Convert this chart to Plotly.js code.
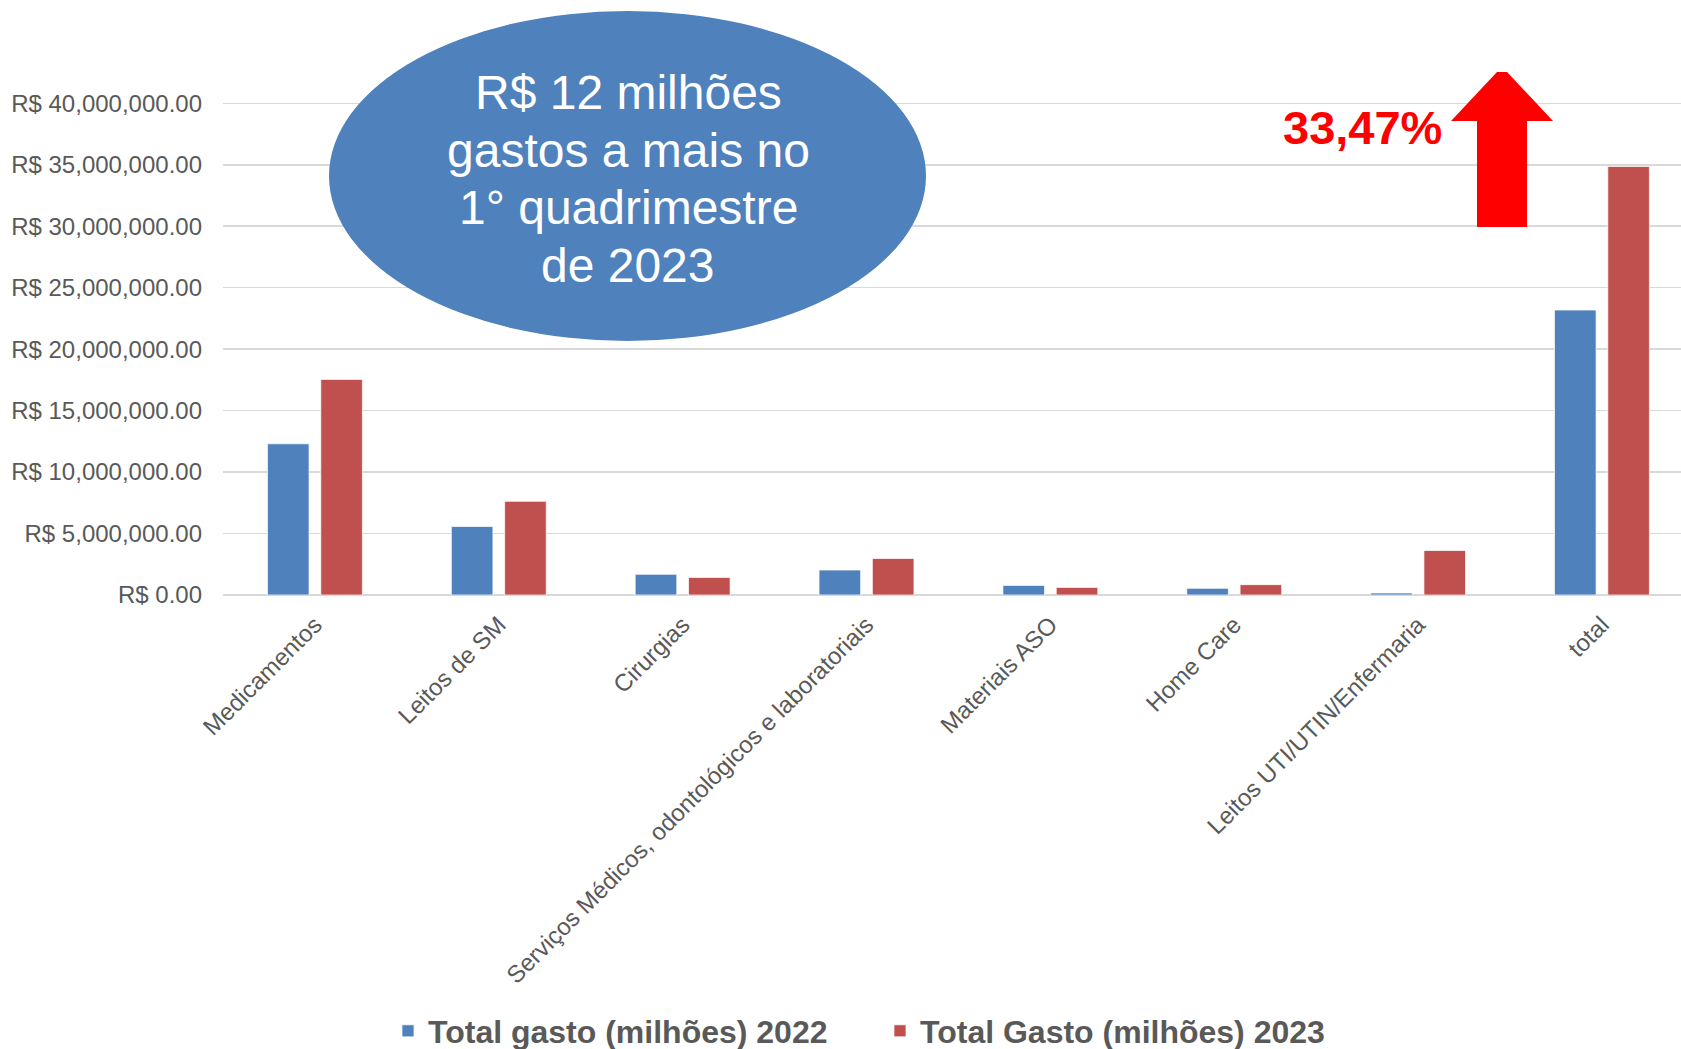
<!DOCTYPE html>
<html>
<head>
<meta charset="utf-8">
<script src="https://cdn.plot.ly/plotly-3.0.1.min.js"></script>
<style>
  html, body { margin: 0; padding: 0; background: #fff; }
  #plot { width: 1681px; height: 1049px; }
</style>
</head>
<body>
<div id="plot"></div>
<script>
// categories and values (R$)
let categories = [
    "Medicamentos",
    "Leitos de SM",
    "Cirurgias",
    "Serviços Médicos, odontológicos e laboratoriais",
    "Materiais ASO",
    "Home Care",
    "Leitos UTI/UTIN/Enfermaria",
    "total"
]
let gasto2022 = [12300000, 5570000, 1680000, 2030000, 780000, 540000, 160000, 23180000]
let gasto2023 = [17540000, 7620000, 1430000, 2970000, 620000, 840000, 3620000, 34860000]

let seriesNames = ["Total gasto (milhões) 2022", "Total Gasto (milhões) 2023"]
let calloutLines = ["R$ 12 milhões", "gastos a mais no", "1° quadrimestre", "de 2023"]
let growthText = "33,47%"

// plot box in page pixels, used to place the drawings over the chart
const L = 223, T = 91, B = 454
const W = 1681 - L
const H = 1049 - T - B
const bottomY = T + H
function px(x) { return (x - L) / W }
function py(y) { return (bottomY - y) / H }

let trace2022 = {
    x: categories,
    y: gasto2022,
    name: seriesNames[0],
    type: "bar",
    marker: { color: "#4F81BD", line: { color: "rgba(255,255,255,0.7)", width: 1 } },
    hoverinfo: "skip"
}

let trace2023 = {
    x: categories,
    y: gasto2023,
    name: seriesNames[1],
    type: "bar",
    marker: { color: "#C0504D", line: { color: "rgba(255,255,255,0.7)", width: 1 } },
    hoverinfo: "skip"
}

// block arrow drawn in pixel units then turned into paper units
let arrowPts = [[1497, 72], [1507, 72], [1553, 121], [1527, 121], [1527, 227],
                [1477, 227], [1477, 121], [1451, 121]]
let arrowPath = arrowPts.map((p, i) => (i === 0 ? "M" : "L") + px(p[0]) + "," + py(p[1])).join(" ") + " Z"

// one annotation per line of the callout so the line spacing matches
let calloutNotes = calloutLines.map((line, i) => ({
    xref: "paper", yref: "paper",
    x: px(628), y: py(178.8 + (i - 1.5) * 57.6),
    xanchor: "center", yanchor: "middle",
    text: line,
    showarrow: false,
    font: { size: 48, color: "#ffffff", family: "Liberation Sans, Arial, sans-serif" }
}))

let layout = {
    width: 1681,
    height: 1049,
    paper_bgcolor: "#ffffff",
    plot_bgcolor: "#ffffff",
    font: { family: "Liberation Sans, Arial, sans-serif", color: "#595959" },
    barmode: "group",
    bargap: 0.42,
    bargroupgap: 0.22,
    margin: { l: L, r: 0, t: T, b: B, pad: 0, autoexpand: false },
    xaxis: {
        range: [-0.5, 7.43],
        tickangle: -45,
        tickfont: { size: 24, color: "#595959" },
        showgrid: false,
        showline: false,
        zeroline: false,
        ticks: "",
        ticklabelstandoff: 10,
        automargin: false
    },
    yaxis: {
        range: [0, 41000000],
        dtick: 5000000,
        tickprefix: "R$ ",
        tickformat: ",.2f",
        tickfont: { size: 24, color: "#595959" },
        gridcolor: "#D9D9D9",
        gridwidth: 1.5,
        zeroline: true,
        zerolinecolor: "#D9D9D9",
        zerolinewidth: 1.5,
        showline: false,
        ticks: "",
        ticklabelstandoff: 20,
        automargin: false
    },
    showlegend: true,
    legend: {
        orientation: "h",
        x: px(388),
        xanchor: "left",
        y: py(1031),
        yanchor: "middle",
        font: { size: 32, color: "#595959", weight: "bold" },
        entrywidth: 447,
        traceorder: "normal"
    },
    shapes: [
        {
            type: "circle",
            xref: "paper", yref: "paper",
            x0: px(329), x1: px(926),
            y0: py(341), y1: py(11),
            fillcolor: "#4F81BD",
            line: { width: 0 },
            layer: "above"
        },
        {
            type: "path",
            xref: "paper", yref: "paper",
            path: arrowPath,
            fillcolor: "#FF0000",
            line: { width: 0 },
            layer: "above"
        }
    ],
    annotations: calloutNotes.concat([
        {
            xref: "paper", yref: "paper",
            x: px(1362), y: py(128),
            xanchor: "center", yanchor: "middle",
            text: "<b>" + growthText + "</b>",
            showarrow: false,
            font: { size: 47, color: "#FF0000", family: "Liberation Sans, Arial, sans-serif" }
        }
    ])
}

Plotly.newPlot("plot", [trace2022, trace2023], layout, { displayModeBar: false, staticPlot: true })
</script>
</body>
</html>
